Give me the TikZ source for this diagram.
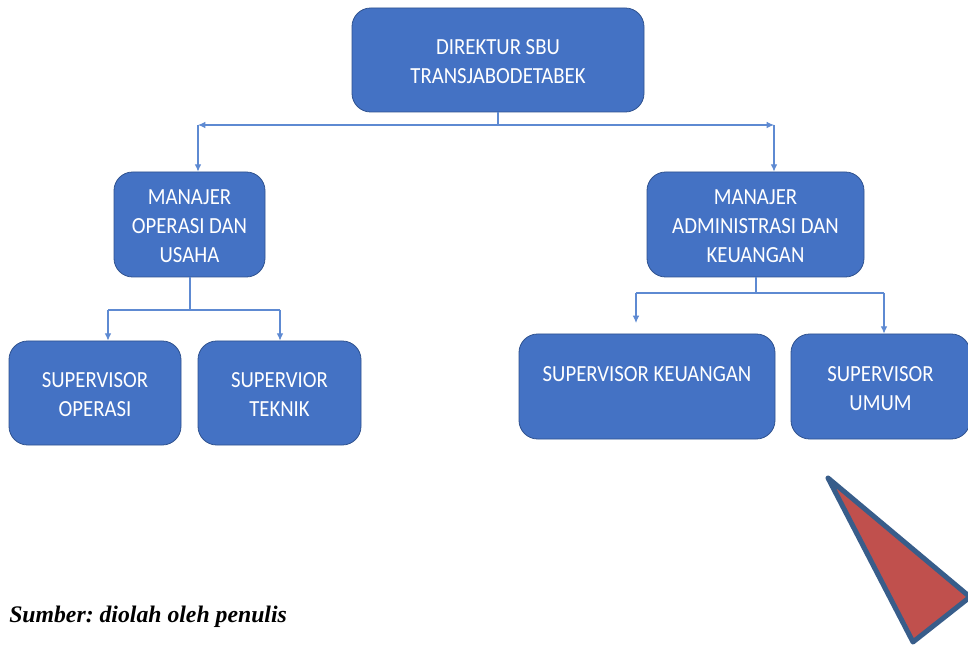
\documentclass[tikz,border=0pt]{standalone}
\usepackage{fontspec}
\setmainfont{Carlito}
\newfontfamily\boxfont[FakeStretch=0.9]{Carlito}
\newfontfamily\capfont{Liberation Serif}
\usetikzlibrary{arrows.meta}
\definecolor{boxfill}{HTML}{4472C4}
\definecolor{boxline}{HTML}{2F528F}
\definecolor{conn}{HTML}{5E8AD2}
\definecolor{trifill}{HTML}{C0504D}
\definecolor{triline}{HTML}{385D8A}
\tikzset{
  orgbox/.style={draw=boxline, line width=0.6pt, fill=boxfill, rounded corners=14pt,
    inner sep=0pt},
  boxtext/.style={text=white, align=center, inner sep=0pt,
    font=\boxfont\fontsize{17.3pt}{21.75pt}\selectfont},
  link/.style={draw=conn, line width=0.8pt},
  arrowlink/.style={link, -{Latex[length=5.5pt,width=5pt]}},
}
\begin{document}
\frenchspacing
\begin{tikzpicture}[x=0.75pt,y=-0.75pt]
\clip (0,0) rectangle (968,645);
\fill[white] (0,0) rectangle (968,645);
% boxes
\node[orgbox, minimum width=219pt, minimum height=78pt] (top) at (498,60) {};
\node[boxtext] (topt) at (498,62) {DIREKTUR SBU\\TRANSJABODETABEK};
\node[orgbox, minimum width=113.25pt, minimum height=78.75pt] (mo) at (189.5,224.5) {};
\node[boxtext] (mot) at (189.5,226.5) {MANAJER\\OPERASI DAN\\USAHA};
\node[orgbox, minimum width=162.75pt, minimum height=78.75pt] (ma) at (755.5,224.5) {};
\node[boxtext] (mat) at (755.5,226.5) {MANAJER\\ADMINISTRASI DAN\\KEUANGAN};
\node[orgbox, minimum width=129pt, minimum height=78pt] (so) at (95,393) {};
\node[boxtext] (sot) at (95,395) {SUPERVISOR\\OPERASI};
\node[orgbox, minimum width=122.25pt, minimum height=78pt] (st) at (279.5,393) {};
\node[boxtext] (stt) at (279.5,395) {SUPERVIOR\\TEKNIK};
\node[orgbox, minimum width=192pt, minimum height=78.75pt] (sk) at (647,386.5) {};
\node[boxtext, anchor=north] (skt) at (647,366) {SUPERVISOR KEUANGAN};
\node[orgbox, minimum width=134.25pt, minimum height=78.75pt] (su) at (880.5,386.5) {};
\node[boxtext, anchor=north] (sut) at (880.5,366) {SUPERVISOR\\UMUM};
% junctions
\coordinate (j1) at (498,125);
\coordinate (j1l) at (198,125);
\coordinate (j1r) at (774,125);
\coordinate (j2) at (190,310);
\coordinate (j2l) at (108,310);
\coordinate (j2r) at (280,310);
\coordinate (j3) at (756,293);
\coordinate (j3l) at (636,293);
\coordinate (j3r) at (884,293);
\coordinate (e3l) at (636,323);
% connectors
\draw[link] (top.south -| j1) -- (j1);
\draw[arrowlink] (j1) -- (j1l);
\draw[arrowlink] (j1) -- (j1r);
\draw[arrowlink] (j1l) -- (j1l |- mo.north);
\draw[arrowlink] (j1r) -- (j1r |- ma.north);
\draw[link] (mo.south -| j2) -- (j2);
\draw[link] (j2l) -- (j2r);
\draw[arrowlink] (j2l) -- (j2l |- so.north);
\draw[arrowlink] (j2r) -- (j2r |- st.north);
\draw[link] (ma.south -| j3) -- (j3);
\draw[link] (j3l) -- (j3r);
\draw[arrowlink] (j3l) -- (e3l);
\draw[arrowlink] (j3r) -- (j3r |- su.north);
% triangle
\draw[draw=triline, fill=trifill, line width=3.75pt, line join=round] (828,478) -- (970,597) -- (913,642) -- cycle;
% caption
\node[anchor=west, inner sep=0pt, font=\capfont\bfseries\itshape\fontsize{17.8pt}{20pt}\selectfont] (cap) at (9,617) {Sumber: diolah oleh penulis};
\end{tikzpicture}
\end{document}
